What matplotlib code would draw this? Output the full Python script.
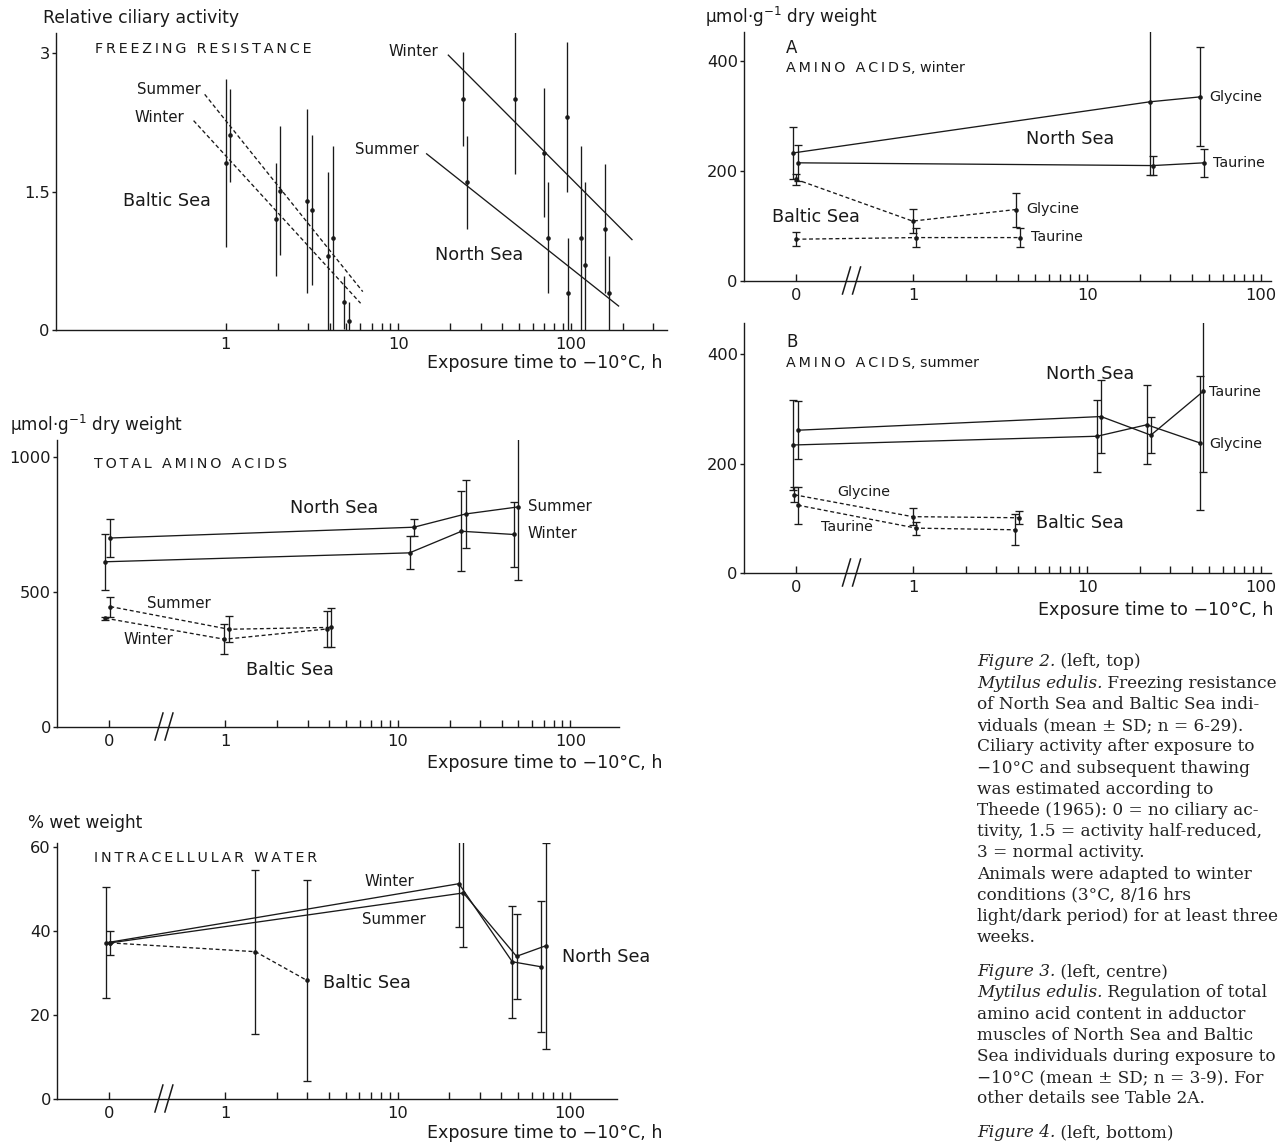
import numpy as np
import matplotlib
matplotlib.use("Agg")
import matplotlib.pyplot as plt
from matplotlib.ticker import FixedLocator, FixedFormatter, NullFormatter

# ---------------- data ----------------
# Fig. 2: freezing resistance, relative ciliary activity
fr_baltic_t = [1.0, 1.06, 1.96, 2.07, 2.95, 3.15, 3.93, 4.18, 4.88, 5.16]
fr_baltic_y = [1.81, 2.11, 1.20, 1.51, 1.40, 1.30, 0.80, 1.00, 0.30, 0.10]
fr_baltic_sd = [0.91, 0.50, 0.61, 0.70, 1.00, 0.81, 0.91, 1.00, 0.29, 0.20]
fr_north_t = [23.8, 25.0, 47.6, 69.8, 73.9, 95, 96, 114, 121, 158, 167]
fr_north_y = [2.50, 1.60, 2.50, 1.92, 1.00, 2.31, 0.40, 1.00, 0.70, 1.10, 0.40]
fr_north_sd = [0.51, 0.50, 0.81, 0.70, 0.60, 0.81, 0.60, 1.00, 0.90, 0.70, 0.40]
# regression lines (end points)
fit_baltic_summer = ([0.756, 6.23], [2.555, 0.416])
fit_baltic_winter = ([0.652, 6.05], [2.27, 0.29])
fit_north_winter = ([19.5, 226], [2.98, 0.98])
fit_north_summer = ([14.6, 189], [1.91, 0.26])

# Fig. 3: total amino acids (umol/g dry weight); t = 0 is the control
taa_ns_summer = ([0, 12.4, 24.7, 49.6], [700, 740, 789, 815], [71, 32, 127, 272])
taa_ns_winter = ([0, 11.7, 23.4, 47.1], [612, 645, 725, 713], [103, 61, 148, 122])
taa_bs_summer = ([0, 1.05, 4.11], [446, 362, 369], [37, 48, 72])
taa_bs_winter = ([0, 0.99, 3.88], [403, 325, 363], [6, 55, 65])

# Fig. 4: intracellular water (% wet weight)
iw_ns_winter = ([0, 22.7, 46.3, 68.2], [37.2, 51.3, 32.7, 31.5], [13.2, 10.4, 13.4, 15.6])
iw_ns_summer = ([0, 24.1, 49.0, 72.3], [37.2, 49.1, 34.0, 36.5], [2.8, 13.0, 10.1, 24.6])
iw_bs = ([0, 1.50, 2.97], [37.2, 35.1, 28.3], [0, 19.5, 24.0])

# A: amino acids, winter
aw_ns_gly = ([0, 22.9, 44.6], [233, 326, 335], [47, 133, 90])
aw_ns_tau = ([0, 23.8, 46.9], [215, 210, 215], [33, 18, 25])
aw_bs_gly = ([0, 0.99, 3.88], [185, 109, 130], [10, 22, 31])
aw_bs_tau = ([0, 1.04, 4.08], [76, 79, 79], [13, 18, 18])

# B: amino acids, summer
as_ns_tau = ([0, 12.0, 23.2, 46.4], [261, 286, 252, 332], [53, 67, 33, 147])
as_ns_gly = ([0, 11.4, 22.0, 44.2], [234, 250, 271, 238], [82, 66, 72, 122])
as_bs_gly = ([0, 0.99, 4.04], [143, 103, 101], [14, 16, 12])
as_bs_tau = ([0, 1.04, 3.85], [124, 82, 79], [34, 12, 28])

caption = [
    [("Figure 2.", "italic"), (" (left, top)", "normal")],
    [("Mytilus edulis.", "italic"), (" Freezing resistance", "normal")],
    "of North Sea and Baltic Sea indi-",
    "viduals (mean ± SD; n = 6-29).",
    "Ciliary activity after exposure to",
    "−10°C and subsequent thawing",
    "was estimated according to",
    "Theede (1965): 0 = no ciliary ac-",
    "tivity, 1.5 = activity half-reduced,",
    "3 = normal activity.",
    "Animals were adapted to winter",
    "conditions (3°C, 8/16 hrs",
    "light/dark period) for at least three",
    "weeks.",
    None,
    [("Figure 3.", "italic"), (" (left, centre)", "normal")],
    [("Mytilus edulis.", "italic"), (" Regulation of total", "normal")],
    "amino acid content in adductor",
    "muscles of North Sea and Baltic",
    "Sea individuals during exposure to",
    "−10°C (mean ± SD; n = 3-9). For",
    "other details see Table 2A.",
    None,
    [("Figure 4.", "italic"), (" (left, bottom)", "normal")],
]

# ---------------- style ----------------
W, H = 1287, 1145
INK = "#1a1a1a"
LW = 0.95
DEC = 173.0            # pixels per decade on the scan
T_ZERO = 10 ** -0.675  # where the "0" control sits on the log axis
T_BREAK = 10 ** -0.355
MINOR = [2, 3, 4, 5, 6, 7, 8, 9, 20, 30, 40, 50, 60, 70, 80, 90]

plt.rcParams['font.family'] = ['DejaVu Sans']
fig = plt.figure(figsize=(W / 100, H / 100), dpi=100)


def px_axes(left, right, top, bottom):
    return fig.add_axes([left / W, 1 - bottom / H, (right - left) / W, (bottom - top) / H])


def ftext(x, y, s, size=11.5, ha="left", va="center", **kw):
    return fig.text(x / W, 1 - y / H, s, fontsize=size, ha=ha, va=va, color=INK, **kw)


def spaced(s):
    # letter-spaced small caps titles
    return "\u2009".join(s)


def setup(ax, xlim, ylim, yticks, zero=True, minor=MINOR):
    ax.set_xscale("log")
    ax.set_xlim(*xlim)
    ax.set_ylim(*ylim)
    for s in ["top", "right"]:
        ax.spines[s].set_visible(False)
    for s in ["left", "bottom"]:
        ax.spines[s].set_linewidth(1.0)
        ax.spines[s].set_color(INK)
    major = [1, 10, 100]
    labels = ["1", "10", "100"]
    if zero:
        major = [T_ZERO] + major
        labels = ["0"] + labels
    ax.xaxis.set_major_locator(FixedLocator(major))
    ax.xaxis.set_major_formatter(FixedFormatter(labels))
    ax.xaxis.set_minor_locator(FixedLocator(minor))
    ax.xaxis.set_minor_formatter(NullFormatter())
    ax.set_yticks(yticks)
    ax.set_yticklabels([("%g" % v) for v in yticks])
    ax.tick_params(axis="x", which="both", direction="in", length=5, width=1.0,
                   pad=5, labelsize=11.7, colors=INK)
    ax.tick_params(axis="y", direction="out", length=3, width=1.0, pad=1.5,
                   labelsize=11.7, colors=INK)
    ax.patch.set_alpha(0)
    if zero:
        hpx = ax.get_position().height * H
        for off in (-5, 5):
            c = T_BREAK * 10 ** (off / DEC)
            ax.plot([c * 10 ** (-4 / DEC), c * 10 ** (4 / DEC)], [-13 / hpx, 14 / hpx],
                    transform=ax.get_xaxis_transform(), color=INK, lw=1.1, clip_on=False)


def series(ax, data, dashed=False, zshift=0.0):
    t, y, sd = (np.asarray(a, float) for a in data)
    tx = np.where(t == 0, T_ZERO * 10 ** (zshift / DEC), t)
    ls = (0, (3, 2)) if dashed else "-"
    ax.plot(tx, y, ls=ls, color=INK, lw=LW, marker="o", ms=3.3, mew=0)
    m = sd > 0
    ax.errorbar(tx[m], y[m], yerr=sd[m], fmt="none", ecolor=INK, elinewidth=LW,
                capsize=3, capthick=LW)


# ---------------- Fig. 2: freezing resistance ----------------
ax1 = px_axes(56, 667, 33, 330)
setup(ax1, (10 ** -0.983, 10 ** 2.557), (0, 3.22), [0, 1.5, 3], zero=False,
      minor=MINOR + [200, 300])
for t, y, sd in [(fr_baltic_t, fr_baltic_y, fr_baltic_sd), (fr_north_t, fr_north_y, fr_north_sd)]:
    ax1.errorbar(t, y, yerr=sd, fmt="o", ms=3.3, mew=0, color=INK, ecolor=INK,
                 elinewidth=LW, capsize=3, capthick=LW)
for (xs, ys), dashed in [(fit_baltic_summer, True), (fit_baltic_winter, True),
                         (fit_north_winter, False), (fit_north_summer, False)]:
    ax1.plot(xs, ys, ls=(0, (3, 2)) if dashed else "-", color=INK, lw=LW)

ftext(43, 18, "Relative ciliary activity", 12.4)
ftext(95, 49, spaced("FREEZING RESISTANCE"), 10.3)
ftext(169, 90, "Summer", 10.8, ha="center")
ftext(159, 117, "Winter", 10.8, ha="center")
ftext(413, 51, "Winter", 10.8, ha="center")
ftext(387, 150, "Summer", 10.8, ha="center")
ftext(167, 201, "Baltic Sea", 12.7, ha="center")
ftext(479, 255, "North Sea", 12.7, ha="center")
ftext(662, 363, "Exposure time to −10°C, h", 12.6, ha="right")

# ---------------- Fig. 3: total amino acids ----------------
ax2 = px_axes(57, 619, 440, 727)
setup(ax2, (10 ** -0.975, 10 ** 2.282), (0, 1063), [0, 500, 1000])
series(ax2, taa_ns_summer, zshift=1.5)
series(ax2, taa_ns_winter, zshift=-3.5)
series(ax2, taa_bs_summer, dashed=True, zshift=1.5)
series(ax2, taa_bs_winter, dashed=True, zshift=-3.5)

ftext(10, 425, r"µmol·g$^{-1}$ dry weight", 12.2)
ftext(94, 464, spaced("TOTAL AMINO ACIDS"), 10.3)
ftext(334, 508, "North Sea", 12.7, ha="center")
ftext(528, 507, "Summer", 10.8)
ftext(527, 534, "Winter", 10.8)
ftext(179, 603, "Summer", 10.8, ha="center")
ftext(148, 639, "Winter", 10.8, ha="center")
ftext(290, 670, "Baltic Sea", 12.7, ha="center")
ftext(662, 763, "Exposure time to −10°C, h", 12.6, ha="right")

# ---------------- Fig. 4: intracellular water ----------------
ax3 = px_axes(57, 617, 843, 1099)
setup(ax3, (10 ** -0.975, 10 ** 2.273), (0, 61), [0, 20, 40, 60])
series(ax3, iw_ns_winter, zshift=-3)
series(ax3, iw_ns_summer, zshift=1.5)
series(ax3, iw_bs, dashed=True, zshift=1.5)

ftext(28, 823, "% wet weight", 12.2)
ftext(94, 858, spaced("INTRACELLULAR WATER"), 10.3)
ftext(389, 881, "Winter", 10.8, ha="center")
ftext(394, 920, "Summer", 10.8, ha="center")
ftext(367, 983, "Baltic Sea", 12.7, ha="center")
ftext(606, 957, "North Sea", 12.7, ha="center")
ftext(662, 1133, "Exposure time to −10°C, h", 12.6, ha="right")

# ---------------- A: amino acids, winter ----------------
axA = px_axes(744, 1271, 32, 281)
setup(axA, (10 ** -0.973, 10 ** 2.056), (0, 453), [0, 200, 400])
series(axA, aw_ns_gly, zshift=-2.5)
series(axA, aw_ns_tau, zshift=2)
series(axA, aw_bs_gly, dashed=True)
series(axA, aw_bs_tau, dashed=True)

ftext(705, 17, r"µmol·g$^{-1}$ dry weight", 12.2)
ftext(786, 48, "A", 12)
ftext(786, 68, spaced("AMINO ACIDS") + ", winter", 10.3)
ftext(1209, 97, "Glycine", 10.3)
ftext(1213, 163, "Taurine", 10.3)
ftext(1070, 139, "North Sea", 12.7, ha="center")
ftext(816, 217, "Baltic Sea", 12.7, ha="center")
ftext(1026, 209, "Glycine", 10.3)
ftext(1031, 237, "Taurine", 10.3)

# ---------------- B: amino acids, summer ----------------
axB = px_axes(744, 1271, 323, 573)
setup(axB, (10 ** -0.973, 10 ** 2.056), (0, 457), [0, 200, 400])
series(axB, as_ns_tau, zshift=2)
series(axB, as_ns_gly, zshift=-2.5)
series(axB, as_bs_gly, dashed=True, zshift=-1.5)
series(axB, as_bs_tau, dashed=True, zshift=2)

ftext(786, 342, "B", 12)
ftext(786, 363, spaced("AMINO ACIDS") + ", summer", 10.3)
ftext(1090, 374, "North Sea", 12.7, ha="center")
ftext(1209, 392, "Taurine", 10.3)
ftext(1209, 444, "Glycine", 10.3)
ftext(864, 492, "Glycine", 10.3, ha="center")
ftext(847, 527, "Taurine", 10.3, ha="center")
ftext(1080, 523, "Baltic Sea", 12.7, ha="center")
ftext(1273, 610, "Exposure time to −10°C, h", 12.6, ha="right")

# ---------------- caption ----------------
renderer = fig.canvas.get_renderer()
y = 662
for line in caption:
    if line is None:
        y += 34 - 21.2
        continue
    parts = [(line, "normal")] if isinstance(line, str) else line
    x = 977
    for s, style in parts:
        t = fig.text(x / W, 1 - y / H, s, fontsize=12.2, family="DejaVu Serif",
                     fontstyle=style, ha="left", va="center", color="#222222")
        x += t.get_window_extent(renderer=renderer).width
    y += 21.2

fig.savefig("out.png", dpi=100, facecolor="white")
